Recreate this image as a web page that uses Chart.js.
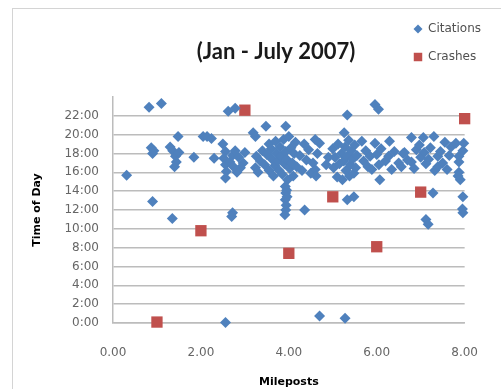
<!DOCTYPE html>
<html>
<head>
<meta charset="utf-8">
<script src="https://cdn.jsdelivr.net/npm/chart.js"></script>
<style>
html,body{margin:0;padding:0;background:#fff}
</style>
</head>
<body>
<canvas id="c" width="501" height="389"></canvas>
<script>
// [milepost, hour of day]
const citations = [
  [0.31,15.7],[0.82,22.9],[1.1,23.3],[0.9,12.9],[0.87,18.6],[0.9,18.0],[0.93,18.3],[1.35,11.1],
  [1.48,19.8],[1.3,18.7],[1.36,18.3],[1.42,17.7],[1.44,17.1],[1.4,16.6],[1.5,18.1],
  [1.84,17.6],[2.05,19.8],[2.14,19.8],[2.24,19.6],[2.3,17.5],[2.5,19.0],[2.56,18.2],[2.52,17.5],
  [2.56,16.8],[2.58,16.1],[2.56,15.4],[2.66,17.1],[2.72,17.8],[2.78,18.3],[2.86,17.6],[2.62,22.5],
  [2.78,22.8],[2.72,11.7],[2.7,11.3],[2.56,0.05],[2.96,17.0],[2.9,16.5],[2.82,16.0],[3.0,18.1],[2.74,16.6],
  [3.19,20.2],[3.24,19.8],[3.48,20.9],[3.24,16.5],[3.26,17.7],[3.3,16.0],[3.35,17.2],[3.4,18.3],
  [3.45,16.8],[3.5,17.9],[3.55,19.0],[3.55,16.2],[3.6,18.5],[3.62,17.4],[3.65,15.6],[3.68,16.7],
  [3.7,19.3],[3.72,18.0],[3.75,17.2],[3.78,16.2],[3.8,18.7],[3.82,17.7],[3.85,15.8],[3.88,19.5],
  [3.9,16.9],[3.93,20.9],[3.93,18.2],[3.95,17.4],[3.97,15.2],[4.0,19.8],[4.02,16.4],[4.05,18.6],
  [4.08,17.0],[4.1,15.6],[4.12,18.0],[4.15,19.2],[4.18,16.6],
  [3.92,14.5],[3.93,13.8],[3.92,13.1],[3.94,12.5],[3.93,12.0],[3.91,11.5],[3.95,14.1],[3.96,13.4],[4.36,12.0],
  [4.25,17.8],[4.3,16.2],[4.35,19.0],[4.4,17.3],[4.45,18.4],[4.5,15.9],[4.55,17.0],[4.6,19.5],
  [4.6,16.3],[4.65,18.0],[4.7,19.1],[4.62,15.6],[4.7,0.75],[4.85,16.8],[4.9,17.6],
  [5.0,18.5],[5.02,16.5],[5.05,17.6],[5.1,15.5],[5.12,19.0],[5.15,16.9],[5.2,18.0],[5.22,15.2],
  [5.25,17.2],[5.26,20.2],[5.28,18.7],[5.3,16.2],[5.33,22.1],[5.33,17.7],[5.36,19.4],[5.38,15.6],
  [5.4,16.8],[5.42,18.3],[5.45,17.4],[5.48,15.9],[5.5,18.9],[5.52,16.5],[5.55,17.8],[5.33,13.1],
  [5.48,13.4],[5.28,0.5],
  [5.66,19.3],[5.7,17.2],[5.75,18.3],[5.8,16.6],[5.85,17.7],[5.89,16.3],[5.96,19.1],[5.96,23.2],
  [6.04,22.7],[6.0,17.9],[6.05,16.8],[6.07,15.2],[6.1,18.5],
  [6.2,17.2],[6.27,17.7],[6.29,19.3],[6.34,16.3],[6.4,18.2],[6.5,17.0],[6.56,16.6],[6.6,18.0],
  [6.63,18.1],[6.7,17.3],[6.79,17.1],[6.79,19.7],[6.85,16.4],[6.9,18.4],[6.97,18.9],[7.0,17.6],
  [7.06,19.7],[7.08,18.1],[7.12,16.9],[7.18,17.4],[7.22,18.6],[7.3,19.8],[7.32,16.2],[7.39,17.7],
  [7.39,16.6],[7.45,18.2],[7.5,17.0],[7.55,19.2],[7.6,16.3],[7.65,17.8],[7.69,18.7],[7.12,11.0],
  [7.17,10.5],[7.28,13.8],
  [7.8,19.1],[7.98,19.1],[7.87,17.7],[7.87,17.1],[7.87,16.0],[7.9,15.2],[7.96,18.3],[7.96,13.4],
  [7.96,11.7],[7.95,12.1],[7.85,15.6]
]
const crashes = [[1.0,0.1],[2.0,9.8],[3.0,22.6],[4.0,7.4],[5.0,13.4],[6.0,8.1],[7.0,13.9],[8.0,21.7]]

const xTicks = [0, 2, 4, 6, 8]
const hourMax = 24

const blue = '#4f81bd'
const red = '#c0504d'
const gridGray = '#bcbcbc'
const tickGray = '#666'
const toPts = arr => arr.map(p => ({x: p[0], y: p[1]}))

// frame, title and legend drawn on the canvas
const deco = {
  id: 'deco',
  beforeDraw(chart){
    const ctx = chart.ctx
    ctx.save()
    ctx.fillStyle = '#fff'
    ctx.fillRect(0, 0, chart.width, chart.height)
    ctx.strokeStyle = '#d4d4d4'
    ctx.lineWidth = 1
    ctx.strokeRect(12.5, 8.5, 600, 600)
    ctx.restore()
  },
  afterDraw(chart){
    const ctx = chart.ctx
    ctx.save()
    ctx.fillStyle = '#1a1a1a'
    ctx.font = 'bold 22px Lato'
    ctx.textAlign = 'center'
    ctx.textBaseline = 'middle'
    ctx.fillText('(Jan - July 2007)', 276, 52)
    ctx.font = '12px "DejaVu Sans"'
    ctx.textAlign = 'left'
    chart.data.datasets.forEach((ds, i) => {
      const y = 29 + i * 28
      ctx.fillStyle = ds.backgroundColor
      Chart.helpers.drawPoint(ctx, {pointStyle: ds.pointStyle, radius: i ? 6 : 4.5, rotation: 0}, 418, y)
      ctx.fillStyle = '#505050'
      ctx.fillText(ds.label, 428, y)
    })
    ctx.restore()
  }
}

new Chart(document.getElementById('c'), {
  type: 'scatter',
  data: {
    datasets: [
      {label: 'Citations', data: toPts(citations), pointStyle: 'rectRot', radius: 5.5, clip: false,
        backgroundColor: blue, borderColor: blue, borderWidth: 0},
      {label: 'Crashes', data: toPts(crashes), pointStyle: 'rect', radius: 8, clip: false,
        backgroundColor: red, borderColor: red, borderWidth: 0}
    ]
  },
  options: {
    responsive: false,
    animation: false,
    layout: {padding: {left: 0, right: 32, top: 97, bottom: 0}},
    plugins: {legend: {display: false}, tooltip: {enabled: false}, title: {display: false}},
    scales: {
      x: {
        type: 'linear', min: 0, max: 8,
        afterFit: s => { s.height = 66 },
        afterBuildTicks: s => { s.ticks = xTicks.map(v => ({value: v})) },
        ticks: {callback: v => v.toFixed(2), color: tickGray, font: {family: 'DejaVu Sans', size: 12}, padding: 23, maxRotation: 0},
        grid: {display: false, drawTicks: false},
        border: {display: true, color: gridGray, width: 1.5},
        title: {display: true, text: 'Mileposts', color: '#000', font: {family: 'DejaVu Sans', size: 11, weight: 'bold'}, padding: {top: 0, bottom: 0}}
      },
      y: {
        min: 0, max: hourMax,
        afterFit: s => { s.width = 113 },
        ticks: {stepSize: 2, callback: v => v === hourMax ? '' : v + ':00', color: tickGray, font: {family: 'DejaVu Sans', size: 12}, padding: 14},
        grid: {color: c => c.tick && c.tick.value === hourMax ? 'rgba(0,0,0,0)' : gridGray, lineWidth: 1.5, drawTicks: false},
        border: {display: true, color: gridGray, width: 1.5},
        title: {display: true, text: 'Time of Day', color: '#000', font: {family: 'DejaVu Sans', size: 11, weight: 'bold'}, padding: {top: 31, bottom: 0}}
      }
    }
  },
  plugins: [deco]
})
</script>
</body>
</html>
